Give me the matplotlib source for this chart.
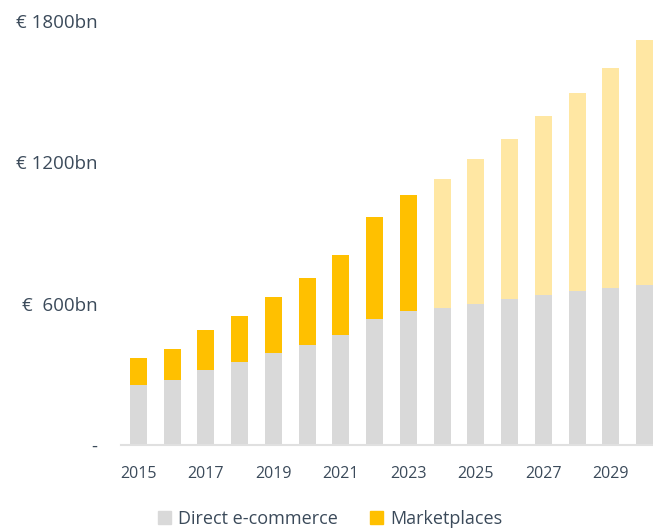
import matplotlib
matplotlib.use("Agg")
import matplotlib.pyplot as plt
from matplotlib.patches import Patch


YEARS = list(range(2015, 2031))
DIRECT = [255, 277, 319, 353, 391, 426, 468, 536, 570, 583, 600, 621, 638, 655, 668, 681]
MARKETPLACES = [115, 131, 170, 196, 239, 285, 340, 434, 490, 545, 613, 677, 758, 839, 932, 1038]
FIRST_FORECAST = 2024

Y_TICKS = [0, 600, 1200, 1800]
Y_LABELS = ["-", "€  600bn", "€ 1200bn", "€ 1800bn"]
X_TICKS = list(range(2015, 2030, 2))

GREY = "#d9d9d9"
YELLOW = "#ffc000"
YELLOW_LIGHT = "#ffe7a3"
TEXT = "#3b4a5a"

plt.rcParams["font.family"] = ["Open Sans", "DejaVu Sans"]

fig = plt.figure(figsize=(6.53, 5.28), dpi=100)
ax = fig.add_axes([0.185, 0.157, 0.815, 0.803])

mp_colors = [YELLOW if y < FIRST_FORECAST else YELLOW_LIGHT for y in YEARS]
ax.bar(YEARS, DIRECT, width=0.5, color=GREY, zorder=2)
ax.bar(YEARS, MARKETPLACES, width=0.5, bottom=DIRECT, color=mp_colors, zorder=2)

ax.set_xlim(2014.48, 2030.25)
ax.set_ylim(0, 1800)
ax.set_yticks(Y_TICKS)
ax.set_yticklabels(Y_LABELS)
ax.set_xticks(X_TICKS)
ax.set_xticklabels([str(x) for x in X_TICKS])

for side in ["top", "right", "left"]:
    ax.spines[side].set_visible(False)
ax.spines["bottom"].set_color("#e0e0e0")
ax.spines["bottom"].set_linewidth(1.5)

ax.tick_params(axis="y", length=0, pad=17, labelsize=13.5, labelcolor=TEXT)
ax.tick_params(axis="x", length=0, pad=15, labelsize=11.5, labelcolor=TEXT)

handles = [Patch(color=GREY, label="Direct e-commerce"),
           Patch(color=YELLOW, label="Marketplaces")]
fig.legend(handles=handles, loc="center", bbox_to_anchor=(0.505, 0.017), ncol=2,
           frameon=False, handlelength=0.75, handleheight=0.75, handletextpad=0.35,
           columnspacing=1.8, labelcolor=TEXT, prop={"size": 13})

fig.savefig("out.png", dpi=100)
